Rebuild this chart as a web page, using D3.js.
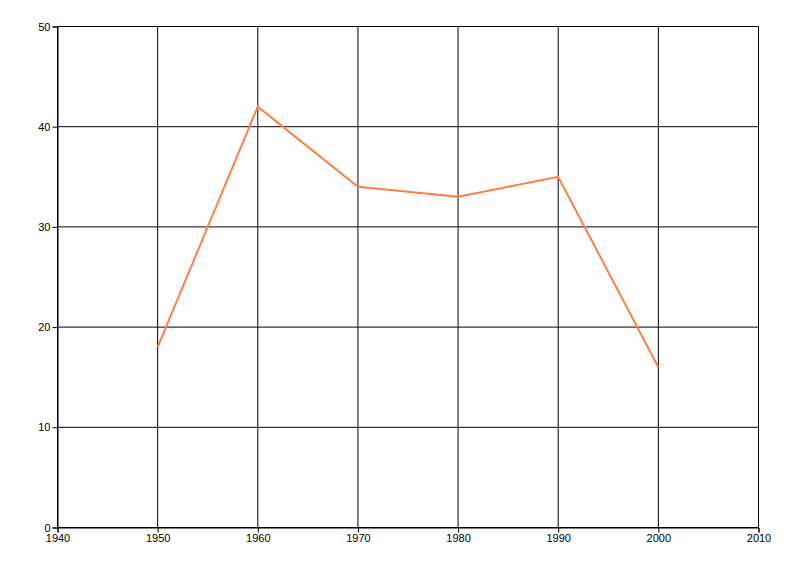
<!DOCTYPE html>
<html><head><meta charset="utf-8">
<script src="https://cdn.jsdelivr.net/npm/d3@7"></script>
<style>body{margin:0;background:#fff}svg{display:block}text{font-family:"Liberation Sans",Arial,sans-serif;font-size:11px;fill:#000}</style>
</head><body>
<svg id="c" width="800" height="576"></svg>
<script>
const years = [1950, 1960, 1970, 1980, 1990, 2000];
const values = [18, 42, 34, 33, 35, 16];
const xTicks = [1940, 1950, 1960, 1970, 1980, 1990, 2000, 2010];
const yTicks = [0, 10, 20, 30, 40, 50];

const svg = d3.select("#c");
const m = {l: 57.5, r: 758.5, t: 26.5, b: 527.5};
const x = d3.scaleLinear().domain([1940, 2010]).range([m.l, m.r]);
const y = d3.scaleLinear().domain([0, 50]).range([m.b, m.t]);

const g = svg.append("g");
// grid
g.selectAll(".vg").data(xTicks).join("line")
  .attr("x1", d => x(d)).attr("x2", d => x(d)).attr("y1", m.t).attr("y2", m.b)
  .attr("stroke", "#000").attr("stroke-width", 1);
g.selectAll(".hg").data(yTicks).join("line")
  .attr("x1", m.l).attr("x2", m.r).attr("y1", d => y(d)).attr("y2", d => y(d))
  .attr("stroke", "#000").attr("stroke-width", 1);

const xa = svg.append("g").attr("transform", `translate(0,${m.b})`)
  .call(d3.axisBottom(x).tickValues(xTicks).tickFormat(d3.format("d")).tickSize(5).tickPadding(2));
const ya = svg.append("g").attr("transform", `translate(${m.l},0)`)
  .call(d3.axisLeft(y).tickValues(yTicks).tickSize(5).tickPadding(2));
[xa, ya].forEach(a => { a.select(".domain").attr("stroke", "#000"); a.selectAll("text").style("font-family", '"Liberation Sans",Arial,sans-serif').style("font-size", "11px").attr("fill", "#000"); });

const line = d3.line().x((d, i) => x(years[i])).y(d => y(d));
svg.append("path").datum(values).attr("d", line)
  .attr("fill", "none").attr("stroke", "#ff7f40").attr("stroke-width", 2).attr("stroke-linejoin", "miter");
</script>
</body></html>
